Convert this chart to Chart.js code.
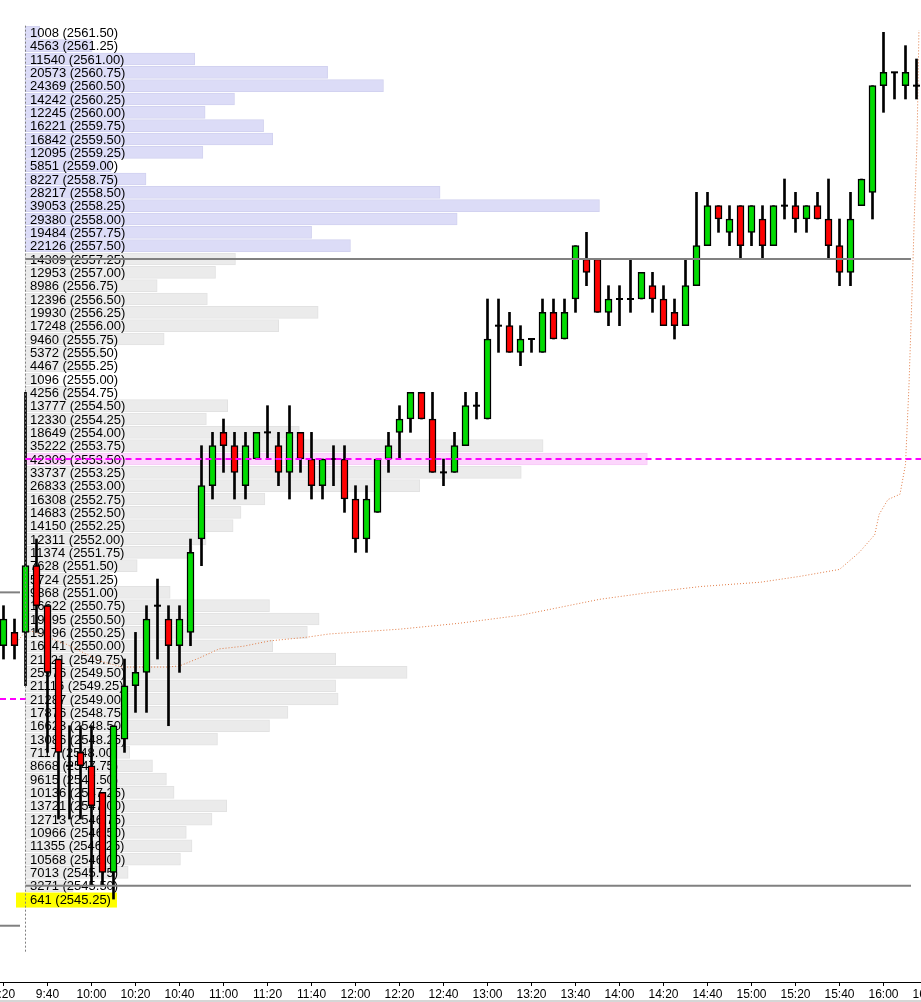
<!DOCTYPE html>
<html><head><meta charset="utf-8">
<script src="https://cdn.jsdelivr.net/npm/chart.js@4.4.1/dist/chart.umd.min.js"></script>
<style>html,body{margin:0;padding:0;background:#fff;overflow:hidden}canvas{display:block}</style>
</head><body>
<canvas id="c" width="921" height="1002"></canvas>
<script>
// ---------- DATA ----------
const candleTime = ["9:20","9:25","9:30","9:35","9:40","9:45","9:50","9:55","10:00","10:05","10:10","10:15","10:20","10:25","10:30","10:35","10:40","10:45","10:50","10:55","11:00","11:05","11:10","11:15","11:20","11:25","11:30","11:35","11:40","11:45","11:50","11:55","12:00","12:05","12:10","12:15","12:20","12:25","12:30","12:35","12:40","12:45","12:50","12:55","13:00","13:05","13:10","13:15","13:20","13:25","13:30","13:35","13:40","13:45","13:50","13:55","14:00","14:05","14:10","14:15","14:20","14:25","14:30","14:35","14:40","14:45","14:50","14:55","15:00","15:05","15:10","15:15","15:20","15:25","15:30","15:35","15:40","15:45","15:50","15:55","16:00","16:05","16:10","16:15"];
const openP  = [2550.00,2550.25,2550.25,2551.50,2550.75,2549.75,2547.75,2548.00,2547.75,2547.25,2545.75,2548.25,2549.25,2549.50,2550.75,2550.50,2550.00,2550.25,2552.00,2553.00,2554.00,2553.75,2553.00,2553.50,2554.00,2553.75,2553.25,2554.00,2553.50,2553.00,2553.50,2553.50,2552.75,2552.00,2552.50,2553.50,2554.00,2554.25,2554.75,2554.25,2553.25,2553.25,2553.75,2554.50,2554.25,2556.00,2556.00,2555.50,2555.75,2555.50,2556.25,2555.75,2556.50,2557.25,2557.25,2556.25,2556.50,2556.50,2556.50,2556.75,2556.50,2556.25,2556.00,2556.75,2557.50,2558.25,2557.75,2558.25,2557.75,2558.00,2557.50,2558.25,2558.25,2558.00,2558.25,2558.00,2557.50,2557.00,2558.25,2558.50,2560.50,2560.75,2560.50,2560.50];
const highP  = [2550.75,2550.50,2554.75,2552.00,2550.75,2549.75,2548.50,2548.50,2548.50,2547.25,2548.50,2549.75,2550.25,2550.75,2551.25,2550.75,2550.75,2552.00,2553.75,2554.00,2554.25,2554.00,2554.00,2554.00,2554.50,2554.00,2554.50,2554.00,2554.00,2553.50,2553.75,2553.75,2553.00,2553.00,2553.50,2554.00,2554.50,2554.75,2554.75,2554.75,2553.50,2554.00,2554.75,2554.75,2556.50,2556.50,2556.25,2556.00,2555.75,2556.50,2556.50,2556.50,2557.50,2557.75,2557.25,2556.75,2556.75,2557.25,2557.00,2557.00,2556.75,2556.50,2557.25,2558.50,2558.50,2558.25,2558.25,2558.25,2558.25,2558.25,2558.25,2558.75,2558.50,2558.25,2558.50,2558.75,2558.00,2558.50,2558.75,2560.50,2561.50,2560.75,2561.25,2561.00];
const lowP   = [2549.75,2549.75,2549.25,2550.25,2548.00,2546.75,2546.75,2546.75,2545.50,2545.50,2545.25,2548.00,2548.75,2548.75,2549.75,2548.50,2549.50,2550.00,2551.50,2552.75,2553.25,2552.75,2552.75,2553.50,2553.50,2553.00,2552.75,2553.25,2552.75,2552.75,2553.00,2552.50,2551.75,2551.75,2552.50,2553.25,2553.50,2554.00,2554.25,2553.25,2553.00,2553.25,2553.75,2554.25,2554.25,2555.50,2555.50,2555.25,2555.50,2555.50,2555.75,2555.75,2556.25,2556.75,2556.25,2556.00,2556.00,2556.25,2556.50,2556.25,2556.00,2555.75,2556.00,2556.75,2557.50,2557.75,2557.50,2557.25,2557.50,2557.25,2557.50,2558.00,2557.75,2557.75,2558.00,2557.25,2556.75,2556.75,2558.25,2558.00,2560.00,2560.25,2560.25,2560.25];
const closeP = [2550.50,2550.00,2551.50,2550.75,2549.50,2548.00,2547.75,2547.75,2547.00,2545.75,2548.50,2549.25,2549.50,2550.50,2550.75,2550.00,2550.50,2551.75,2553.00,2553.75,2553.75,2553.25,2553.75,2554.00,2554.00,2553.25,2554.00,2553.50,2553.00,2553.50,2553.50,2552.75,2552.00,2552.75,2553.50,2553.75,2554.25,2554.75,2554.25,2553.25,2553.25,2553.75,2554.50,2554.50,2555.75,2556.00,2555.50,2555.75,2555.75,2556.25,2555.75,2556.25,2557.50,2557.00,2556.25,2556.50,2556.50,2556.50,2557.00,2556.50,2556.00,2556.00,2556.75,2557.50,2558.25,2558.00,2558.00,2557.50,2558.25,2557.50,2558.25,2558.25,2558.00,2558.25,2558.00,2557.50,2557.00,2558.00,2558.75,2560.50,2560.75,2560.75,2560.75,2560.50];

const profilePrice = [2561.50,2561.25,2561.00,2560.75,2560.50,2560.25,2560.00,2559.75,2559.50,2559.25,2559.00,2558.75,2558.50,2558.25,2558.00,2557.75,2557.50,2557.25,2557.00,2556.75,2556.50,2556.25,2556.00,2555.75,2555.50,2555.25,2555.00,2554.75,2554.50,2554.25,2554.00,2553.75,2553.50,2553.25,2553.00,2552.75,2552.50,2552.25,2552.00,2551.75,2551.50,2551.25,2551.00,2550.75,2550.50,2550.25,2550.00,2549.75,2549.50,2549.25,2549.00,2548.75,2548.50,2548.25,2548.00,2547.75,2547.50,2547.25,2547.00,2546.75,2546.50,2546.25,2546.00,2545.75,2545.50,2545.25];
const profileVolume = [1008,4563,11540,20573,24369,14242,12245,16221,16842,12095,5851,8227,28217,39053,29380,19484,22126,14309,12953,8986,12396,19930,17248,9460,5372,4467,1096,4256,13777,12330,18649,35222,42309,33737,26833,16308,14683,14150,12311,11374,7628,5724,9868,16622,19995,19196,16841,21121,25976,21116,21287,17876,16623,13086,7117,8668,9615,10136,13721,12713,10966,11355,10568,7013,3271,641];
const pocPrice = 2553.50;
const upperZoneFrom = 2557.50;
const sessionLow = 2545.25;

const lineTime  = [566,570,573,589,604,614,634,640,649,658,669,681,698,708,740,767,795,813,831,854,877,904,922,940,949,956,958,962,967.5,970,971.6,973,974,975.2,975.7,976.1];
const lineValue = [2550.06,2550.27,2550.27,2550.02,2549.71,2549.60,2549.60,2549.62,2549.77,2549.94,2549.99,2550.09,2550.16,2550.22,2550.31,2550.42,2550.57,2550.72,2550.87,2551.00,2551.11,2551.19,2551.30,2551.43,2551.75,2552.08,2552.46,2552.74,2552.84,2553.40,2554.90,2556.65,2558.03,2559.40,2560.51,2561.54];

const tickLabels = ["9:20","9:40","10:00","10:20","10:40","11:00","11:20","11:40","12:00","12:20","12:40","13:00","13:20","13:40","14:00","14:20","14:40","15:00","15:20","15:40","16:00","16:20"];

const sessionStart = "9:30";
const levelGrayA = 2557.25, levelGrayB = 2545.50;
const prevGrayA = 2551.00, prevPoc = 2549.00, prevGrayB = 2544.75;

// ---------- HELPERS ----------
const toMin = s => { const [h, m] = s.split(':').map(Number); return h * 60 + m; };
const fmt = v => { const h = Math.floor(v / 60), m = Math.round(v - h * 60); return h + ':' + String(m).padStart(2, '0'); };
const X_MIN = 558.409, X_MAX = 977.045;
const tStart = toMin(sessionStart);
const tLineEnd = 972.5;

const GREEN = '#00dc00', RED = '#ff0000';

const profileColors = profilePrice.map(p => p === pocPrice ? '#fcd6fc' : (p >= upperZoneFrom ? '#dcdcf7' : '#ebebeb'));
const profileBorders = profilePrice.map(p => p === pocPrice ? '#f8c8f8' : (p >= upperZoneFrom ? '#d2d2f0' : '#e2e2e2'));

const wickData = candleTime.map((t, i) => ({x: toMin(t), y: [lowP[i], highP[i]]}));
const bodyIdx = candleTime.map((t, i) => i).filter(i => openP[i] !== closeP[i]);
const bodyData = bodyIdx.map(i => ({x: toMin(candleTime[i]), y: [openP[i], closeP[i]]}));
const bodyColors = bodyIdx.map(i => closeP[i] > openP[i] ? GREEN : RED);
const dojiData = candleTime.map((t, i) => i).filter(i => openP[i] === closeP[i]).map(i => ({x: toMin(candleTime[i]), y: openP[i]}));

const hline = (x0, x1, y, color, dash) => ({
  type: 'line', data: [{x: x0, y: y}, {x: x1, y: y}], borderColor: color, borderWidth: 2,
  borderDash: dash || [], pointRadius: 0, order: 1, xAxisID: 'x', yAxisID: 'y'
});

const labelPlugin = {
  id: 'profileLabels',
  afterDatasetDraw(chart, args) {
    if (args.index !== 0) return;
    const ctx = chart.ctx, ys = chart.scales.y, xs = chart.scales.x;
    const tx = xs.getPixelForValue(tStart) + 4.5;
    ctx.save();
    ctx.font = '13px "Liberation Sans", Arial, sans-serif';
    ctx.textBaseline = 'middle';
    ctx.textAlign = 'left';
    profilePrice.forEach((p, i) => {
      const py = ys.getPixelForValue(p);
      const text = profileVolume[i] + ' (' + p.toFixed(2) + ')';
      if (p === sessionLow) {
        const w = ctx.measureText(text).width;
        ctx.fillStyle = '#ffff00';
        ctx.fillRect(tx - 14, py - 6.5, w + 20, 15);
      }
      ctx.fillStyle = '#000';
      ctx.fillText(text, tx, py + 1);
    });
    ctx.restore();
  },
  afterDraw(chart) {
    const ctx = chart.ctx;
    ctx.save();
    ctx.fillStyle = '#d6d6d6';
    ctx.fillRect(0, chart.height - 2, chart.width, 2);
    ctx.restore();
  }
};

new Chart(document.getElementById('c'), {
  data: {
    datasets: [
      { type: 'bar', indexAxis: 'y', xAxisID: 'xv', yAxisID: 'y',
        data: profilePrice.map((p, i) => ({y: p, x: profileVolume[i]})),
        backgroundColor: profileColors, borderColor: profileBorders, borderWidth: 1, borderSkipped: false,
        barThickness: 12, grouped: false, order: 10 },
      { type: 'line', xAxisID: 'x', yAxisID: 'y',
        data: lineTime.map((t, i) => ({x: t, y: lineValue[i]})),
        borderColor: '#e07b45', borderWidth: 1, borderDash: [1, 2], pointRadius: 0, tension: 0, order: 6 },
      { type: 'bar', xAxisID: 'x', yAxisID: 'y', data: wickData,
        backgroundColor: '#000', borderWidth: 0, barThickness: 2, grouped: false, order: 5 },
      { type: 'bar', xAxisID: 'x', yAxisID: 'y', data: bodyData,
        backgroundColor: bodyColors, borderColor: '#000', borderWidth: 1.5, borderSkipped: false,
        barThickness: 7, grouped: false, order: 4 },
      { type: 'scatter', xAxisID: 'x', yAxisID: 'y', data: dojiData,
        pointStyle: 'line', radius: 3.5, borderColor: '#000', borderWidth: 2, order: 3 },
      hline(tStart, X_MAX, pocPrice, '#ff00ff', [6, 4]),
      hline(tStart, tLineEnd, levelGrayA, '#808080'),
      hline(tStart, tLineEnd, levelGrayB, '#808080'),
      hline(X_MIN, 567.5, prevGrayA, '#808080'),
      hline(X_MIN, tStart, prevPoc, '#ff00ff', [6, 4]),
      hline(X_MIN, 567.5, prevGrayB, '#808080'),
      { type: 'line', xAxisID: 'x', yAxisID: 'y',
        data: [{x: tStart, y: 2561.625}, {x: tStart, y: 2544.25}],
        borderColor: '#808080', borderWidth: 1, borderDash: [2, 2], pointRadius: 0, order: 2 }
    ]
  },
  options: {
    responsive: false, animation: false, devicePixelRatio: 1,
    layout: { padding: 0, autoPadding: false },
    plugins: { legend: { display: false }, tooltip: { enabled: false }, title: { display: false } },
    scales: {
      x: { type: 'linear', position: 'bottom', min: X_MIN, max: X_MAX, offset: false,
        afterFit(s) { s.height = 20; s.paddingLeft = 0; s.paddingRight = 0; s.paddingTop = 0; s.paddingBottom = 0; },
        afterBuildTicks(s) { s.ticks = tickLabels.map(l => ({value: toMin(l)})); },
        ticks: { autoSkip: false, maxRotation: 0, minRotation: 0, padding: 1, color: '#000',
          font: { family: '"Liberation Sans", Arial, sans-serif', size: 12 },
          callback: v => fmt(v) },
        grid: { offset: false, drawOnChartArea: false, drawTicks: true, tickLength: 4, color: '#000' },
        border: { display: true, color: '#000', width: 1 } },
      xv: { type: 'linear', display: false, offset: false, min: -1699.5, max: 60911 },
      y: { type: 'linear', display: false, offset: false, grid: { offset: false }, min: 2543.695, max: 2562.106 }
    }
  },
  plugins: [labelPlugin]
});
</script>
</body></html>
